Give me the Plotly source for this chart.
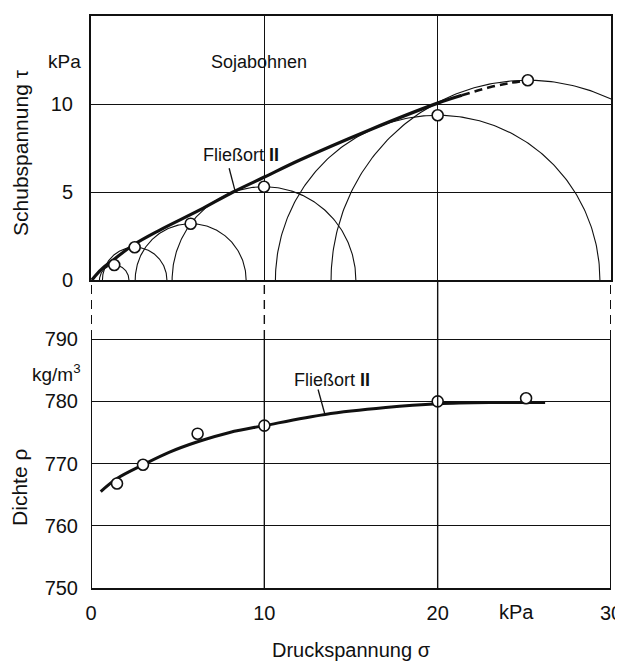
import numpy as np
import plotly.graph_objects as go

# ---------------- data ----------------
# Mohr circles (top diagram): centre on sigma axis and radius (kPa)
mohr_center = [1.34, 2.52, 5.75, 9.98, 20.0, 25.2]
mohr_radius = [0.85, 1.86, 3.2, 5.3, 9.36, 11.35]

# yield locus "Fließort II" (solid part) and extrapolated (dashed) part
locus_sigma = [0.05, 0.6, 1.3, 2.44, 4.0, 6.28, 8.2, 10.0, 12.05, 16.0, 20.0, 21.4]
locus_tau = [0.0, 0.6, 1.15, 1.99, 2.85, 3.98, 5.0, 5.85, 6.82, 8.5, 10.05, 10.5]
locus_ext_sigma = [21.4, 23.0, 24.2, 25.2]
locus_ext_tau = [10.5, 10.95, 11.2, 11.35]

# density (bottom diagram)
dens_sigma = [1.5, 3.0, 6.15, 10.0, 20.0, 25.1]
dens_rho = [766.8, 769.8, 774.8, 776.1, 780.0, 780.5]
curve_sigma = [0.56, 1.5, 3.0, 4.5, 6.15, 8.0, 10.0, 13.5, 17.0, 20.0, 23.0, 26.2]
curve_rho = [765.5, 767.6, 769.8, 771.8, 773.5, 775.0, 776.1, 777.9, 779.0, 779.6, 779.8, 779.8]

x_ticks = [0, 10, 20, 30]
tau_ticks = [0, 5, 10, 15]
rho_ticks = [750, 760, 770, 780, 790]

FONT = "Liberation Sans, Arial, sans-serif"
BLACK = "#111111"
TICK = dict(size=20)

fig = go.Figure()

# Mohr circles
t = np.linspace(0, np.pi, 200)
for c, r in zip(mohr_center, mohr_radius):
    fig.add_trace(go.Scatter(x=c + r * np.cos(t), y=r * np.sin(t), mode="lines",
                             line=dict(color=BLACK, width=1.1), xaxis="x", yaxis="y",
                             hoverinfo="skip", showlegend=False))

# yield locus
fig.add_trace(go.Scatter(x=locus_sigma, y=locus_tau, mode="lines",
                         line=dict(color=BLACK, width=3.2, shape="spline"),
                         xaxis="x", yaxis="y", showlegend=False))
fig.add_trace(go.Scatter(x=locus_ext_sigma, y=locus_ext_tau, mode="lines",
                         line=dict(color=BLACK, width=2.6, dash="8px,5px", shape="spline"),
                         xaxis="x", yaxis="y", showlegend=False))
# circle tops
fig.add_trace(go.Scatter(x=mohr_center, y=mohr_radius, mode="markers",
                         marker=dict(size=11, color="white", line=dict(color=BLACK, width=1.6)),
                         xaxis="x", yaxis="y", showlegend=False))

# density curve and points
fig.add_trace(go.Scatter(x=curve_sigma, y=curve_rho, mode="lines",
                         line=dict(color=BLACK, width=3, shape="spline"),
                         xaxis="x2", yaxis="y2", showlegend=False))
fig.add_trace(go.Scatter(x=dens_sigma, y=dens_rho, mode="markers",
                         marker=dict(size=11, color="white", line=dict(color=BLACK, width=1.6)),
                         xaxis="x2", yaxis="y2", showlegend=False))

split = 0.53846
rho_top = 799.5

fig.update_layout(
    width=615, height=653,
    margin=dict(l=83, r=12, t=8, b=73, autoexpand=False),
    paper_bgcolor="white", plot_bgcolor="white",
    font=dict(family=FONT, size=19, color=BLACK),
    xaxis=dict(domain=[0, 1], range=[0, 30], anchor="y", tickvals=x_ticks,
               showticklabels=False, showgrid=True, gridcolor=BLACK, gridwidth=1.4,
               zeroline=False, showline=True, linecolor=BLACK, linewidth=2, mirror=True,
               ticks="", automargin=False),
    yaxis=dict(domain=[split, 1], range=[0, 15], anchor="x", tickvals=tau_ticks,
               showgrid=True, gridcolor=BLACK, gridwidth=1.4, zeroline=False,
               showline=True, linecolor=BLACK, linewidth=2, mirror=True, ticks="",
               ticklabelstandoff=12, automargin=False, tickfont=TICK),
    xaxis2=dict(domain=[0, 1], range=[0, 30], anchor="y2", tickvals=x_ticks,
                showgrid=False, zeroline=False, showline=True, linecolor=BLACK, linewidth=2,
                ticks="", ticklabelstandoff=6, automargin=False, tickfont=TICK),
    yaxis2=dict(domain=[0, split], range=[750, rho_top], anchor="x2", tickvals=rho_ticks,
                showgrid=True, gridcolor=BLACK, gridwidth=1.4, zeroline=False,
                showline=False, ticks="", ticklabelstandoff=12, automargin=False,
                tickfont=TICK),
)

shapes = []
# bottom frame verticals: solid up to 790, dashed in the gap
for xv, w in [(0, 2), (30, 2), (10, 1.4)]:
    shapes.append(dict(type="line", xref="x2", yref="y2", x0=xv, x1=xv, y0=750, y1=790,
                       line=dict(color=BLACK, width=w)))
    shapes.append(dict(type="line", xref="x2", yref="y2", x0=xv, x1=xv, y0=790, y1=rho_top,
                       line=dict(color=BLACK, width=w, dash="9px,6px")))
shapes.append(dict(type="line", xref="x2", yref="y2", x0=20, x1=20, y0=750, y1=rho_top,
                   line=dict(color=BLACK, width=1.4)))
# leader lines for labels
shapes.append(dict(type="line", xref="x", yref="y", x0=7.97, x1=8.3, y0=6.35, y1=5.11,
                   line=dict(color=BLACK, width=1.3)))
shapes.append(dict(type="line", xref="x2", yref="y2", x0=13.1, x1=13.5, y0=781.9, y1=777.85,
                   line=dict(color=BLACK, width=1.3)))
fig.update_layout(shapes=shapes)


def A(text, x, y, xref="paper", yref="paper", xanchor="center", angle=0, size=19):
    return dict(text=text, x=x, y=y, xref=xref, yref=yref, xanchor=xanchor,
                yanchor="middle", textangle=angle, showarrow=False, font=dict(size=size))


ann = [
    A("Sojabohnen", 9.68, 12.4, "x", "y", size=18),
    A("Fließort <b>II</b>", 8.67, 7.1, "x", "y", size=18),
    A("Fließort <b>II</b>", 13.9, 783.5, "x2", "y2", size=18),
    A("kPa", -0.0154, 0.9213, xanchor="right"),
    A("kg/m<sup>3</sup>", -0.0154, 0.376, xanchor="right"),
    A("kPa", 24.55, -0.042, "x2", "paper", size=20),
    A("Druckspannung σ", 0.5, -0.1084, size=20),
    A("Schubspannung τ", -0.1366, 0.7622, angle=-90, size=21),
    A("Dichte ρ", -0.1366, 0.1766, angle=-90, size=21),
]
fig.update_layout(annotations=ann)

fig.write_html("out.html")
